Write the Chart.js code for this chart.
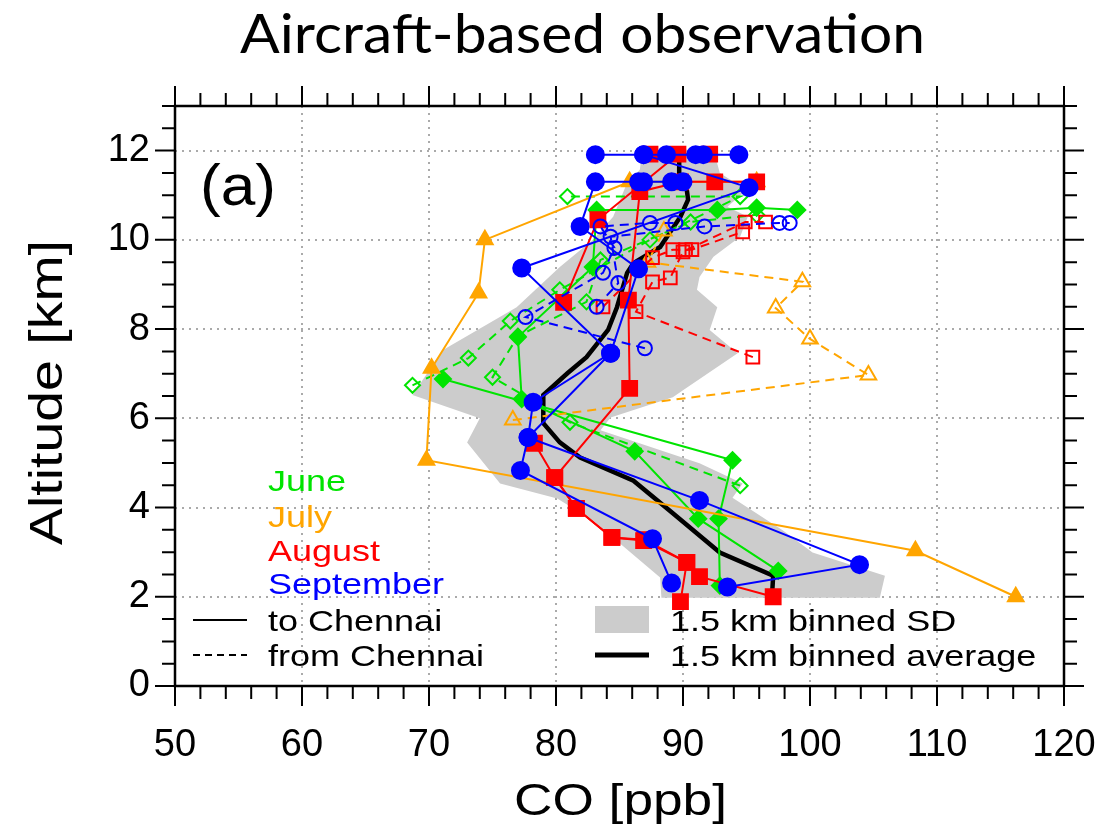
<!DOCTYPE html>
<html>
<head>
<meta charset="utf-8">
<script src="https://cdn.jsdelivr.net/npm/chart.js@4.4.1/dist/chart.umd.min.js"></script>
<style>
  body { margin: 0; background: #fff; }
  #wrap { width: 1114px; height: 826px; }
</style>
</head>
<body>
<div id="wrap"><canvas id="chart" width="1114" height="826"></canvas></div>
<script>
// axis ticks
const coTicks = [50, 60, 70, 80, 90, 100, 110, 120];
const altTicks = [0, 2, 4, 6, 8, 10, 12];

// profiles as [CO ppb, altitude km]
// June (green)
const juneTo1 = [[97.5, 2.58], [91.2, 3.75], [86.2, 5.26], [77.3, 6.43], [77.0, 7.82], [82.9, 9.39], [83.2, 10.67], [92.7, 10.67], [95.8, 10.72], [99.0, 10.67]];
const juneTo2 = [[92.9, 2.25], [92.8, 3.75], [93.9, 5.06], [71.1, 6.88]];
const juneFrom1 = [[94.5, 4.49], [81.1, 5.91], [75.0, 6.92], [77.0, 7.84], [82.4, 8.61], [83.5, 9.55], [90.6, 10.4], [95.8, 10.56]];
const juneFrom2 = [[68.7, 6.74], [73.1, 7.35], [76.4, 8.18], [80.3, 8.88], [87.4, 10.0], [94.5, 10.97], [80.9, 10.97]];
// July (orange)
const julyTo = [[116.2, 2.0], [108.3, 3.03], [69.8, 5.06], [70.2, 7.12], [73.9, 8.81], [74.4, 10.0], [85.8, 11.3], [95.8, 11.3]];
const julyFrom = [[76.6, 5.96], [104.6, 6.97], [100.0, 7.78], [97.3, 8.47], [99.4, 9.06], [87.2, 9.5], [88.5, 10.2]];
// August (red)
const augTo1 = [[97.1, 2.0], [91.3, 2.45], [90.3, 2.77], [86.9, 3.26], [84.4, 3.33], [81.6, 3.98], [79.9, 4.67], [85.8, 6.67], [85.7, 8.65], [86.6, 11.08], [89.8, 11.3], [92.5, 11.3], [95.8, 11.3]];
const augTo2 = [[89.8, 1.89], [90.3, 2.77], [87.0, 3.28], [84.4, 3.33], [81.6, 3.98], [79.9, 4.67], [78.3, 5.44]];
const augTo3 = [[80.6, 8.6], [83.3, 10.45], [89.6, 11.92], [87.4, 11.92], [92.1, 11.92]];
const augFrom1 = [[95.5, 7.37], [86.3, 8.39], [87.6, 9.06], [89.0, 9.15], [90.0, 9.73], [94.9, 10.4], [96.5, 10.4]];
const augFrom2 = [[83.7, 8.5], [87.6, 9.6], [89.2, 9.78], [90.2, 9.78], [90.7, 9.78], [94.7, 10.18]];
// September (blue)
const sepTo1 = [[89.1, 2.31], [87.6, 3.3], [77.2, 4.83], [77.8, 5.57], [84.3, 7.46], [77.3, 9.37], [95.2, 11.17], [86.9, 11.91]];
const sepTo2 = [[93.5, 2.22], [103.9, 2.72], [91.3, 4.16], [77.8, 5.57], [78.2, 6.36], [84.3, 7.46], [86.5, 9.35], [81.9, 10.3], [83.1, 11.3], [86.5, 11.3], [86.9, 11.3], [89.1, 11.3], [90.0, 11.3]];
const sepTo3 = [[83.1, 11.91], [86.9, 11.91], [88.7, 11.91], [91.0, 11.91], [91.6, 11.91], [94.4, 11.91]];
const sepFrom1 = [[87.0, 7.57], [77.6, 8.27], [83.7, 9.26], [84.6, 9.82], [83.5, 10.3], [87.4, 10.38], [89.4, 10.38]];
const sepFrom2 = [[83.2, 8.5], [84.9, 9.03], [84.3, 10.07], [91.7, 10.3], [97.6, 10.38], [98.4, 10.38]];

// 1.5 km binned average
const avgCo = [97.0, 97.1, 92.9, 89.2, 86.1, 81.9, 80.3, 79.0, 79.0, 80.9, 82.4, 84.1, 84.8, 85.6, 86.1, 88.2, 89.8, 90.4, 90.3, 89.7, 89.7];
const avgAlt = [1.98, 2.47, 2.99, 3.87, 4.6, 5.12, 5.46, 5.89, 6.52, 7.01, 7.37, 7.98, 8.49, 9.26, 9.48, 9.84, 10.52, 10.9, 11.12, 11.5, 11.9];

// 1.5 km binned SD envelope (outline)
const sdCo = [86.8, 92.4, 92.9, 95.0, 93.5, 95.1, 94.5, 92.4, 91.3, 91.1, 92.7, 92.1, 94.3, 90.0, 89.2, 84.3, 83.5, 91.3, 94.7, 93.9, 97.9, 100.2, 105.9, 105.5, 88.3, 88.2, 82.9, 80.1, 75.6, 73.0, 74.0, 68.7, 71.1, 76.9, 80.3, 82.9, 84.5, 85.6, 86.6];
const sdAlt = [12.02, 12.02, 11.5, 11.12, 10.74, 10.52, 10.07, 9.62, 9.17, 8.88, 8.49, 7.98, 7.46, 6.63, 6.47, 6.02, 5.73, 4.99, 4.54, 4.22, 3.48, 2.99, 2.47, 1.98, 1.98, 2.43, 3.71, 4.2, 4.54, 5.46, 6.0, 6.52, 7.53, 8.49, 9.39, 10.0, 10.52, 11.28, 11.57];

const GREEN = '#00e400', ORANGE = '#ffa500', RED = '#ff0000', BLUE = '#0000ff';

function pts(arr) {
    return arr.map(p => ({ x: p[0], y: p[1] }));
}

function profile(arr, color, style, filled, dashed, radius) {
    return {
        data: pts(arr),
        showLine: true,
        borderColor: color,
        borderWidth: 2,
        borderDash: dashed ? [9, 6] : [],
        pointStyle: style,
        pointRadius: radius,
        pointBorderWidth: 2,
        pointBackgroundColor: filled ? color : 'rgba(0,0,0,0)',
        pointBorderColor: color
    };
}

const datasets = [
    profile(sepTo1, BLUE, 'circle', true, false, 8.5),
    profile(sepTo2, BLUE, 'circle', true, false, 8.5),
    profile(sepTo3, BLUE, 'circle', true, false, 8.5),
    profile(sepFrom1, BLUE, 'circle', false, true, 7),
    profile(sepFrom2, BLUE, 'circle', false, true, 7),
    profile(augTo1, RED, 'rect', true, false, 10.5),
    profile(augTo2, RED, 'rect', true, false, 10.5),
    profile(augTo3, RED, 'rect', true, false, 10.5),
    profile(augFrom1, RED, 'rect', false, true, 9),
    profile(augFrom2, RED, 'rect', false, true, 9),
    profile(julyTo, ORANGE, 'triangle', true, false, 9),
    profile(julyFrom, ORANGE, 'triangle', false, true, 9),
    profile(juneTo1, GREEN, 'rectRot', true, false, 8),
    profile(juneTo2, GREEN, 'rectRot', true, false, 8),
    profile(juneFrom1, GREEN, 'rectRot', false, true, 7.5),
    profile(juneFrom2, GREEN, 'rectRot', false, true, 7.5),
    {
        data: avgCo.map((c, i) => ({ x: c, y: avgAlt[i] })),
        showLine: true,
        borderColor: '#000',
        borderWidth: 4.5,
        pointRadius: 0
    },
    {
        data: sdCo.map((c, i) => ({ x: c, y: sdAlt[i] })),
        showLine: false,
        pointRadius: 0
    }
];

const FONT = "'Liberation Sans', Arial, sans-serif";

// text drawn with a horizontal stretch, like the original figure
function stretchText(ctx, text, x, y, font, color, sx) {
    ctx.save();
    ctx.font = font;
    ctx.fillStyle = color;
    ctx.textAlign = 'left';
    ctx.translate(x, y);
    ctx.scale(sx, 1);
    ctx.fillText(text, 0, 0);
    ctx.restore();
}

function fitText(ctx, text, x, y, font, color, width) {
    ctx.font = font;
    const w = ctx.measureText(text).width;
    stretchText(ctx, text, x, y, font, color, width / w);
}

const decor = {
    id: 'decor',
    beforeDatasetsDraw(chart) {
        const ctx = chart.ctx;
        const meta = chart.getDatasetMeta(datasets.length - 1);
        ctx.save();
        ctx.beginPath();
        meta.data.forEach((p, i) => {
            if (i === 0) ctx.moveTo(p.x, p.y); else ctx.lineTo(p.x, p.y);
        });
        ctx.closePath();
        ctx.fillStyle = '#cccccc';
        ctx.fill();
        ctx.restore();
    },
    afterDraw(chart) {
        const ctx = chart.ctx;
        const a = chart.chartArea;
        const xs = chart.scales.x, ys = chart.scales.y;
        ctx.save();

        // frame and outward ticks on all sides
        ctx.strokeStyle = '#000';
        ctx.lineWidth = 2.5;
        ctx.strokeRect(a.left, a.top, a.right - a.left, a.bottom - a.top);
        ctx.lineWidth = 2;
        ctx.beginPath();
        for (let v = 50; v <= 120; v += 2) {
            const len = v % 10 === 0 ? 20 : 13;
            const px = xs.getPixelForValue(v);
            ctx.moveTo(px, a.bottom); ctx.lineTo(px, a.bottom + len);
            ctx.moveTo(px, a.top); ctx.lineTo(px, a.top - len);
        }
        for (let v = 0; v <= 13; v += 0.5) {
            const len = v % 2 === 0 ? 20 : 13;
            const py = ys.getPixelForValue(v);
            ctx.moveTo(a.left, py); ctx.lineTo(a.left - len, py);
            ctx.moveTo(a.right, py); ctx.lineTo(a.right + len, py);
        }
        ctx.stroke();

        // title and axis titles
        ctx.textBaseline = 'alphabetic';
        fitText(ctx, 'Aircraft-based observation', 240, 53, "54px Lato, 'Open Sans', sans-serif", '#000', 685);
        fitText(ctx, 'CO [ppb]', 514, 815, '44px ' + FONT, '#000', 213);
        ctx.save();
        ctx.translate(62, 545);
        ctx.rotate(-Math.PI / 2);
        fitText(ctx, 'Altitude [km]', 0, 0, '46px ' + FONT, '#000', 305);
        ctx.restore();
        fitText(ctx, '(a)', 200, 205, '58px ' + FONT, '#000', 76);

        // month labels
        const lf = '30px ' + FONT;
        const sx = 1.2;
        stretchText(ctx, 'June', 268, 491, lf, GREEN, sx);
        stretchText(ctx, 'July', 268, 527, lf, ORANGE, sx);
        stretchText(ctx, 'August', 268, 561, lf, RED, sx);
        stretchText(ctx, 'September', 268, 594, lf, BLUE, sx);

        // legend
        ctx.strokeStyle = '#000';
        ctx.lineWidth = 2;
        ctx.beginPath(); ctx.moveTo(193, 620); ctx.lineTo(247, 620); ctx.stroke();
        ctx.setLineDash([7, 5]);
        ctx.beginPath(); ctx.moveTo(193, 655); ctx.lineTo(247, 655); ctx.stroke();
        ctx.setLineDash([]);
        stretchText(ctx, 'to Chennai', 268, 631, lf, '#000', sx);
        stretchText(ctx, 'from Chennai', 268, 666, lf, '#000', sx);
        ctx.fillStyle = '#cccccc';
        ctx.fillRect(595, 606, 54, 27);
        ctx.lineWidth = 5;
        ctx.beginPath(); ctx.moveTo(595, 655); ctx.lineTo(649, 655); ctx.stroke();
        stretchText(ctx, '1.5 km binned SD', 670, 631, lf, '#000', sx);
        stretchText(ctx, '1.5 km binned average', 670, 666, lf, '#000', sx);
        ctx.restore();
    }
};

new Chart(document.getElementById('chart'), {
    type: 'scatter',
    data: { datasets: datasets },
    plugins: [decor],
    options: {
        responsive: false,
        animation: false,
        layout: { padding: { top: 106, right: 50, left: 0, bottom: 0 } },
        plugins: {
            legend: { display: false },
            tooltip: { enabled: false },
            title: { display: false }
        },
        scales: {
            x: {
                type: 'linear',
                min: 50,
                max: 120,
                afterBuildTicks: s => { s.ticks = coTicks.map(v => ({ value: v })); },
                afterFit: s => { s.height = 140; s.paddingLeft = 0; s.paddingRight = 0; },
                ticks: {
                    autoSkip: false,
                    maxRotation: 0,
                    padding: 37,
                    color: '#000',
                    font: { family: FONT, size: 38 }
                },
                grid: { color: '#aaaaaa', lineWidth: 2, drawTicks: false },
                border: { display: false, dash: [2, 5] }
            },
            y: {
                type: 'linear',
                min: 0,
                max: 13,
                afterBuildTicks: s => { s.ticks = altTicks.map(v => ({ value: v })); },
                afterFit: s => { s.width = 175; s.paddingTop = 0; s.paddingBottom = 0; },
                ticks: {
                    autoSkip: false,
                    padding: 25,
                    color: '#000',
                    font: { family: FONT, size: 38 }
                },
                grid: { color: '#aaaaaa', lineWidth: 2, drawTicks: false },
                border: { display: false, dash: [2, 5] }
            }
        }
    }
});
</script>
</body>
</html>
